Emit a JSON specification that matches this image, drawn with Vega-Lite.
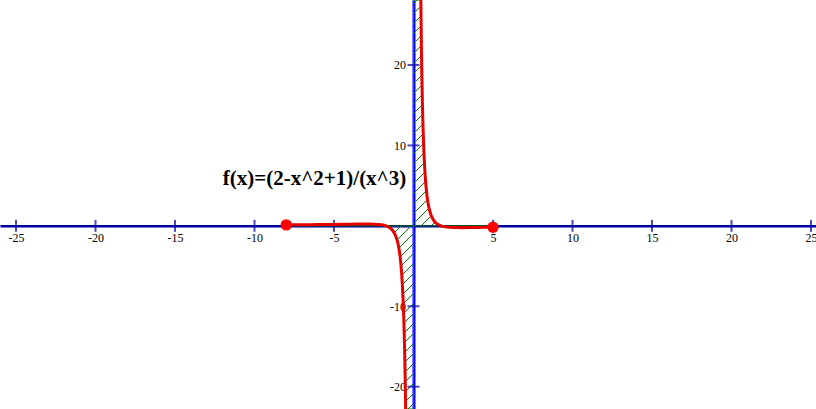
{
  "$schema": "https://vega.github.io/schema/vega-lite/v6.json",
  "width": 816,
  "height": 409,
  "padding": 0,
  "autosize": {"type": "none"},
  "background": "white",
  "config": {"view": {"stroke": null}},
  "datasets": {
    "curve": [
      {"x": -8, "y": 0.11914, "seg": "L"},
      {"x": -7.5, "y": 0.12622, "seg": "L"},
      {"x": -7, "y": 0.13411, "seg": "L"},
      {"x": -6.5, "y": 0.14292, "seg": "L"},
      {"x": -6, "y": 0.15278, "seg": "L"},
      {"x": -5.5, "y": 0.16379, "seg": "L"},
      {"x": -5, "y": 0.176, "seg": "L"},
      {"x": -4.5, "y": 0.1893, "seg": "L"},
      {"x": -4, "y": 0.20313, "seg": "L"},
      {"x": -3.5, "y": 0.21574, "seg": "L"},
      {"x": -3, "y": 0.22222, "seg": "L"},
      {"x": -2.75, "y": 0.21938, "seg": "L"},
      {"x": -2.5, "y": 0.208, "seg": "L"},
      {"x": -2.25, "y": 0.18107, "seg": "L"},
      {"x": -2, "y": 0.125, "seg": "L"},
      {"x": -1.85, "y": 0.06673, "seg": "L"},
      {"x": -1.732, "y": 0, "seg": "L"},
      {"x": -1.6, "y": -0.10742, "seg": "L"},
      {"x": -1.5, "y": -0.22222, "seg": "L"},
      {"x": -1.4, "y": -0.37901, "seg": "L"},
      {"x": -1.3, "y": -0.59627, "seg": "L"},
      {"x": -1.2, "y": -0.90278, "seg": "L"},
      {"x": -1.1, "y": -1.34485, "seg": "L"},
      {"x": -1.0, "y": -2.0, "seg": "L"},
      {"x": -0.95, "y": -2.44642, "seg": "L"},
      {"x": -0.9, "y": -3.00412, "seg": "L"},
      {"x": -0.85, "y": -3.70853, "seg": "L"},
      {"x": -0.8, "y": -4.60938, "seg": "L"},
      {"x": -0.75, "y": -5.77778, "seg": "L"},
      {"x": -0.7, "y": -7.31778, "seg": "L"},
      {"x": -0.65, "y": -9.38552, "seg": "L"},
      {"x": -0.6, "y": -12.2222, "seg": "L"},
      {"x": -0.575, "y": -14.0413, "seg": "L"},
      {"x": -0.55, "y": -16.2134, "seg": "L"},
      {"x": -0.525, "y": -18.8273, "seg": "L"},
      {"x": -0.5, "y": -22.0, "seg": "L"},
      {"x": -0.4946, "y": -22.773, "seg": "L"},
      {"x": -0.0001, "y": -22.773, "seg": "L", "edge": true},
      {"x": 0.0001, "y": 28.082, "seg": "R", "edge": true},
      {"x": 0.4629, "y": 28.082, "seg": "R"},
      {"x": 0.475, "y": 25.887, "seg": "R"},
      {"x": 0.5, "y": 22.0, "seg": "R"},
      {"x": 0.525, "y": 18.8273, "seg": "R"},
      {"x": 0.55, "y": 16.2134, "seg": "R"},
      {"x": 0.575, "y": 14.0413, "seg": "R"},
      {"x": 0.6, "y": 12.2222, "seg": "R"},
      {"x": 0.65, "y": 9.38552, "seg": "R"},
      {"x": 0.7, "y": 7.31778, "seg": "R"},
      {"x": 0.75, "y": 5.77778, "seg": "R"},
      {"x": 0.8, "y": 4.60938, "seg": "R"},
      {"x": 0.85, "y": 3.70853, "seg": "R"},
      {"x": 0.9, "y": 3.00412, "seg": "R"},
      {"x": 0.95, "y": 2.44642, "seg": "R"},
      {"x": 1.0, "y": 2.0, "seg": "R"},
      {"x": 1.1, "y": 1.34485, "seg": "R"},
      {"x": 1.2, "y": 0.90278, "seg": "R"},
      {"x": 1.3, "y": 0.59627, "seg": "R"},
      {"x": 1.4, "y": 0.37901, "seg": "R"},
      {"x": 1.5, "y": 0.22222, "seg": "R"},
      {"x": 1.6, "y": 0.10742, "seg": "R"},
      {"x": 1.732, "y": 0, "seg": "R"},
      {"x": 1.85, "y": -0.06673, "seg": "R"},
      {"x": 2, "y": -0.125, "seg": "R"},
      {"x": 2.25, "y": -0.18107, "seg": "R"},
      {"x": 2.5, "y": -0.208, "seg": "R"},
      {"x": 2.75, "y": -0.21938, "seg": "R"},
      {"x": 3, "y": -0.22222, "seg": "R"},
      {"x": 3.5, "y": -0.21574, "seg": "R"},
      {"x": 4, "y": -0.20313, "seg": "R"},
      {"x": 4.5, "y": -0.1893, "seg": "R"},
      {"x": 5, "y": -0.176, "seg": "R"}
    ],
    "xticks": [{"v": -25}, {"v": -20}, {"v": -15}, {"v": -10}, {"v": -5}, {"v": 5}, {"v": 10}, {"v": 15}, {"v": 20}, {"v": 25}],
    "yticks": [{"v": -20}, {"v": -10}, {"v": 10}, {"v": 20}],
    "points": [{"x": -8, "y": 0.11914}, {"x": 5, "y": -0.176}],
    "label": [{"x": -12.0, "y": 5.08, "text": "f(x)=(2-x^2+1)/(x^3)"}]
  },
  "encoding": {
    "x": {
      "type": "quantitative",
      "scale": {"domain": [-26.006, 25.314], "nice": false, "zero": false},
      "axis": {
        "title": null, "orient": "bottom", "offset": -183.15,
        "values": [-25, -20, -15, -10, -5, 5, 10, 15, 20, 25],
        "labelExpr": "datum.value < 0 ? '-' + abs(datum.value) : '' + datum.value",
        "domainColor": "#0000a0", "domainWidth": 2.5,
        "ticks": false, "tickSize": 0, "grid": false,
        "labelFont": "Liberation Serif", "labelFontSize": 12, "labelColor": "#000000",
        "labelPadding": 7, "labelFlush": false, "labelOverlap": false
      }
    },
    "y": {
      "type": "quantitative",
      "scale": {"domain": [-22.773, 28.082], "nice": false, "zero": false},
      "axis": {
        "title": null, "orient": "left", "offset": -413.5,
        "values": [-20, -10, 10, 20],
        "labelExpr": "datum.value < 0 ? '-' + abs(datum.value) : '' + datum.value",
        "domainColor": "#0000ff", "domainWidth": 3,
        "ticks": false, "tickSize": 0, "grid": false,
        "labelFont": "Liberation Serif", "labelFontSize": 12, "labelColor": "#000000",
        "labelPadding": 8, "labelFlush": false, "labelOverlap": false
      }
    }
  },
  "layer": [
    {
      "data": {"name": "curve"},
      "mark": {
        "type": "area",
        "stroke": "#008000",
        "strokeWidth": 1,
        "fill": {
          "gradient": "linear", "x1": 0, "y1": 0, "x2": 0.606, "y2": 1.1991,
          "stops": [
            {"offset": 0, "color": "rgba(0,128,0,0)"}, {"offset": 0, "color": "#008000"}, {"offset": 0.0025, "color": "#008000"}, {"offset": 0.0025, "color": "rgba(0,128,0,0)"},
            {"offset": 0.01624, "color": "rgba(0,128,0,0)"}, {"offset": 0.01624, "color": "#008000"}, {"offset": 0.01874, "color": "#008000"}, {"offset": 0.01874, "color": "rgba(0,128,0,0)"},
            {"offset": 0.03248, "color": "rgba(0,128,0,0)"}, {"offset": 0.03248, "color": "#008000"}, {"offset": 0.03498, "color": "#008000"}, {"offset": 0.03498, "color": "rgba(0,128,0,0)"},
            {"offset": 0.04872, "color": "rgba(0,128,0,0)"}, {"offset": 0.04872, "color": "#008000"}, {"offset": 0.05122, "color": "#008000"}, {"offset": 0.05122, "color": "rgba(0,128,0,0)"},
            {"offset": 0.06496, "color": "rgba(0,128,0,0)"}, {"offset": 0.06496, "color": "#008000"}, {"offset": 0.06746, "color": "#008000"}, {"offset": 0.06746, "color": "rgba(0,128,0,0)"},
            {"offset": 0.0812, "color": "rgba(0,128,0,0)"}, {"offset": 0.0812, "color": "#008000"}, {"offset": 0.0837, "color": "#008000"}, {"offset": 0.0837, "color": "rgba(0,128,0,0)"},
            {"offset": 0.09744, "color": "rgba(0,128,0,0)"}, {"offset": 0.09744, "color": "#008000"}, {"offset": 0.09994, "color": "#008000"}, {"offset": 0.09994, "color": "rgba(0,128,0,0)"},
            {"offset": 0.11368, "color": "rgba(0,128,0,0)"}, {"offset": 0.11368, "color": "#008000"}, {"offset": 0.11618, "color": "#008000"}, {"offset": 0.11618, "color": "rgba(0,128,0,0)"},
            {"offset": 0.12992, "color": "rgba(0,128,0,0)"}, {"offset": 0.12992, "color": "#008000"}, {"offset": 0.13242, "color": "#008000"}, {"offset": 0.13242, "color": "rgba(0,128,0,0)"},
            {"offset": 0.14616, "color": "rgba(0,128,0,0)"}, {"offset": 0.14616, "color": "#008000"}, {"offset": 0.14866, "color": "#008000"}, {"offset": 0.14866, "color": "rgba(0,128,0,0)"},
            {"offset": 0.1624, "color": "rgba(0,128,0,0)"}, {"offset": 0.1624, "color": "#008000"}, {"offset": 0.1649, "color": "#008000"}, {"offset": 0.1649, "color": "rgba(0,128,0,0)"},
            {"offset": 0.17864, "color": "rgba(0,128,0,0)"}, {"offset": 0.17864, "color": "#008000"}, {"offset": 0.18114, "color": "#008000"}, {"offset": 0.18114, "color": "rgba(0,128,0,0)"},
            {"offset": 0.19488, "color": "rgba(0,128,0,0)"}, {"offset": 0.19488, "color": "#008000"}, {"offset": 0.19738, "color": "#008000"}, {"offset": 0.19738, "color": "rgba(0,128,0,0)"},
            {"offset": 0.21112, "color": "rgba(0,128,0,0)"}, {"offset": 0.21112, "color": "#008000"}, {"offset": 0.21362, "color": "#008000"}, {"offset": 0.21362, "color": "rgba(0,128,0,0)"},
            {"offset": 0.22736, "color": "rgba(0,128,0,0)"}, {"offset": 0.22736, "color": "#008000"}, {"offset": 0.22986, "color": "#008000"}, {"offset": 0.22986, "color": "rgba(0,128,0,0)"},
            {"offset": 0.2436, "color": "rgba(0,128,0,0)"}, {"offset": 0.2436, "color": "#008000"}, {"offset": 0.2461, "color": "#008000"}, {"offset": 0.2461, "color": "rgba(0,128,0,0)"},
            {"offset": 0.25984, "color": "rgba(0,128,0,0)"}, {"offset": 0.25984, "color": "#008000"}, {"offset": 0.26234, "color": "#008000"}, {"offset": 0.26234, "color": "rgba(0,128,0,0)"},
            {"offset": 0.27608, "color": "rgba(0,128,0,0)"}, {"offset": 0.27608, "color": "#008000"}, {"offset": 0.27858, "color": "#008000"}, {"offset": 0.27858, "color": "rgba(0,128,0,0)"},
            {"offset": 0.29232, "color": "rgba(0,128,0,0)"}, {"offset": 0.29232, "color": "#008000"}, {"offset": 0.29482, "color": "#008000"}, {"offset": 0.29482, "color": "rgba(0,128,0,0)"},
            {"offset": 0.30856, "color": "rgba(0,128,0,0)"}, {"offset": 0.30856, "color": "#008000"}, {"offset": 0.31106, "color": "#008000"}, {"offset": 0.31106, "color": "rgba(0,128,0,0)"},
            {"offset": 0.3248, "color": "rgba(0,128,0,0)"}, {"offset": 0.3248, "color": "#008000"}, {"offset": 0.3273, "color": "#008000"}, {"offset": 0.3273, "color": "rgba(0,128,0,0)"},
            {"offset": 0.34104, "color": "rgba(0,128,0,0)"}, {"offset": 0.34104, "color": "#008000"}, {"offset": 0.34354, "color": "#008000"}, {"offset": 0.34354, "color": "rgba(0,128,0,0)"},
            {"offset": 0.35728, "color": "rgba(0,128,0,0)"}, {"offset": 0.35728, "color": "#008000"}, {"offset": 0.35978, "color": "#008000"}, {"offset": 0.35978, "color": "rgba(0,128,0,0)"},
            {"offset": 0.37352, "color": "rgba(0,128,0,0)"}, {"offset": 0.37352, "color": "#008000"}, {"offset": 0.37602, "color": "#008000"}, {"offset": 0.37602, "color": "rgba(0,128,0,0)"},
            {"offset": 0.38976, "color": "rgba(0,128,0,0)"}, {"offset": 0.38976, "color": "#008000"}, {"offset": 0.39226, "color": "#008000"}, {"offset": 0.39226, "color": "rgba(0,128,0,0)"},
            {"offset": 0.406, "color": "rgba(0,128,0,0)"}, {"offset": 0.406, "color": "#008000"}, {"offset": 0.4085, "color": "#008000"}, {"offset": 0.4085, "color": "rgba(0,128,0,0)"},
            {"offset": 0.42224, "color": "rgba(0,128,0,0)"}, {"offset": 0.42224, "color": "#008000"}, {"offset": 0.42474, "color": "#008000"}, {"offset": 0.42474, "color": "rgba(0,128,0,0)"},
            {"offset": 0.43848, "color": "rgba(0,128,0,0)"}, {"offset": 0.43848, "color": "#008000"}, {"offset": 0.44098, "color": "#008000"}, {"offset": 0.44098, "color": "rgba(0,128,0,0)"},
            {"offset": 0.45472, "color": "rgba(0,128,0,0)"}, {"offset": 0.45472, "color": "#008000"}, {"offset": 0.45722, "color": "#008000"}, {"offset": 0.45722, "color": "rgba(0,128,0,0)"},
            {"offset": 0.47096, "color": "rgba(0,128,0,0)"}, {"offset": 0.47096, "color": "#008000"}, {"offset": 0.47346, "color": "#008000"}, {"offset": 0.47346, "color": "rgba(0,128,0,0)"},
            {"offset": 0.4872, "color": "rgba(0,128,0,0)"}, {"offset": 0.4872, "color": "#008000"}, {"offset": 0.4897, "color": "#008000"}, {"offset": 0.4897, "color": "rgba(0,128,0,0)"},
            {"offset": 0.50344, "color": "rgba(0,128,0,0)"}, {"offset": 0.50344, "color": "#008000"}, {"offset": 0.50594, "color": "#008000"}, {"offset": 0.50594, "color": "rgba(0,128,0,0)"},
            {"offset": 0.51968, "color": "rgba(0,128,0,0)"}, {"offset": 0.51968, "color": "#008000"}, {"offset": 0.52218, "color": "#008000"}, {"offset": 0.52218, "color": "rgba(0,128,0,0)"},
            {"offset": 0.53592, "color": "rgba(0,128,0,0)"}, {"offset": 0.53592, "color": "#008000"}, {"offset": 0.53842, "color": "#008000"}, {"offset": 0.53842, "color": "rgba(0,128,0,0)"},
            {"offset": 0.55216, "color": "rgba(0,128,0,0)"}, {"offset": 0.55216, "color": "#008000"}, {"offset": 0.55466, "color": "#008000"}, {"offset": 0.55466, "color": "rgba(0,128,0,0)"},
            {"offset": 0.5684, "color": "rgba(0,128,0,0)"}, {"offset": 0.5684, "color": "#008000"}, {"offset": 0.5709, "color": "#008000"}, {"offset": 0.5709, "color": "rgba(0,128,0,0)"},
            {"offset": 0.58464, "color": "rgba(0,128,0,0)"}, {"offset": 0.58464, "color": "#008000"}, {"offset": 0.58714, "color": "#008000"}, {"offset": 0.58714, "color": "rgba(0,128,0,0)"},
            {"offset": 0.60088, "color": "rgba(0,128,0,0)"}, {"offset": 0.60088, "color": "#008000"}, {"offset": 0.60338, "color": "#008000"}, {"offset": 0.60338, "color": "rgba(0,128,0,0)"},
            {"offset": 0.61712, "color": "rgba(0,128,0,0)"}, {"offset": 0.61712, "color": "#008000"}, {"offset": 0.61962, "color": "#008000"}, {"offset": 0.61962, "color": "rgba(0,128,0,0)"},
            {"offset": 0.63336, "color": "rgba(0,128,0,0)"}, {"offset": 0.63336, "color": "#008000"}, {"offset": 0.63586, "color": "#008000"}, {"offset": 0.63586, "color": "rgba(0,128,0,0)"},
            {"offset": 0.6496, "color": "rgba(0,128,0,0)"}, {"offset": 0.6496, "color": "#008000"}, {"offset": 0.6521, "color": "#008000"}, {"offset": 0.6521, "color": "rgba(0,128,0,0)"},
            {"offset": 0.66584, "color": "rgba(0,128,0,0)"}, {"offset": 0.66584, "color": "#008000"}, {"offset": 0.66834, "color": "#008000"}, {"offset": 0.66834, "color": "rgba(0,128,0,0)"},
            {"offset": 0.68208, "color": "rgba(0,128,0,0)"}, {"offset": 0.68208, "color": "#008000"}, {"offset": 0.68458, "color": "#008000"}, {"offset": 0.68458, "color": "rgba(0,128,0,0)"},
            {"offset": 0.69832, "color": "rgba(0,128,0,0)"}, {"offset": 0.69832, "color": "#008000"}, {"offset": 0.70082, "color": "#008000"}, {"offset": 0.70082, "color": "rgba(0,128,0,0)"},
            {"offset": 0.71456, "color": "rgba(0,128,0,0)"}, {"offset": 0.71456, "color": "#008000"}, {"offset": 0.71706, "color": "#008000"}, {"offset": 0.71706, "color": "rgba(0,128,0,0)"},
            {"offset": 0.7308, "color": "rgba(0,128,0,0)"}, {"offset": 0.7308, "color": "#008000"}, {"offset": 0.7333, "color": "#008000"}, {"offset": 0.7333, "color": "rgba(0,128,0,0)"},
            {"offset": 0.74704, "color": "rgba(0,128,0,0)"}, {"offset": 0.74704, "color": "#008000"}, {"offset": 0.74954, "color": "#008000"}, {"offset": 0.74954, "color": "rgba(0,128,0,0)"},
            {"offset": 0.76328, "color": "rgba(0,128,0,0)"}, {"offset": 0.76328, "color": "#008000"}, {"offset": 0.76578, "color": "#008000"}, {"offset": 0.76578, "color": "rgba(0,128,0,0)"},
            {"offset": 0.77952, "color": "rgba(0,128,0,0)"}, {"offset": 0.77952, "color": "#008000"}, {"offset": 0.78202, "color": "#008000"}, {"offset": 0.78202, "color": "rgba(0,128,0,0)"},
            {"offset": 0.79576, "color": "rgba(0,128,0,0)"}, {"offset": 0.79576, "color": "#008000"}, {"offset": 0.79826, "color": "#008000"}, {"offset": 0.79826, "color": "rgba(0,128,0,0)"},
            {"offset": 0.812, "color": "rgba(0,128,0,0)"}, {"offset": 0.812, "color": "#008000"}, {"offset": 0.8145, "color": "#008000"}, {"offset": 0.8145, "color": "rgba(0,128,0,0)"},
            {"offset": 0.82824, "color": "rgba(0,128,0,0)"}, {"offset": 0.82824, "color": "#008000"}, {"offset": 0.83074, "color": "#008000"}, {"offset": 0.83074, "color": "rgba(0,128,0,0)"},
            {"offset": 0.84448, "color": "rgba(0,128,0,0)"}, {"offset": 0.84448, "color": "#008000"}, {"offset": 0.84698, "color": "#008000"}, {"offset": 0.84698, "color": "rgba(0,128,0,0)"},
            {"offset": 0.86072, "color": "rgba(0,128,0,0)"}, {"offset": 0.86072, "color": "#008000"}, {"offset": 0.86322, "color": "#008000"}, {"offset": 0.86322, "color": "rgba(0,128,0,0)"},
            {"offset": 0.87696, "color": "rgba(0,128,0,0)"}, {"offset": 0.87696, "color": "#008000"}, {"offset": 0.87946, "color": "#008000"}, {"offset": 0.87946, "color": "rgba(0,128,0,0)"},
            {"offset": 0.8932, "color": "rgba(0,128,0,0)"}, {"offset": 0.8932, "color": "#008000"}, {"offset": 0.8957, "color": "#008000"}, {"offset": 0.8957, "color": "rgba(0,128,0,0)"},
            {"offset": 0.90944, "color": "rgba(0,128,0,0)"}, {"offset": 0.90944, "color": "#008000"}, {"offset": 0.91194, "color": "#008000"}, {"offset": 0.91194, "color": "rgba(0,128,0,0)"},
            {"offset": 0.92568, "color": "rgba(0,128,0,0)"}, {"offset": 0.92568, "color": "#008000"}, {"offset": 0.92818, "color": "#008000"}, {"offset": 0.92818, "color": "rgba(0,128,0,0)"},
            {"offset": 0.94192, "color": "rgba(0,128,0,0)"}, {"offset": 0.94192, "color": "#008000"}, {"offset": 0.94442, "color": "#008000"}, {"offset": 0.94442, "color": "rgba(0,128,0,0)"},
            {"offset": 0.95816, "color": "rgba(0,128,0,0)"}, {"offset": 0.95816, "color": "#008000"}, {"offset": 0.96066, "color": "#008000"}, {"offset": 0.96066, "color": "rgba(0,128,0,0)"},
            {"offset": 0.9744, "color": "rgba(0,128,0,0)"}, {"offset": 0.9744, "color": "#008000"}, {"offset": 0.9769, "color": "#008000"}, {"offset": 0.9769, "color": "rgba(0,128,0,0)"},
            {"offset": 0.99064, "color": "rgba(0,128,0,0)"}, {"offset": 0.99064, "color": "#008000"}, {"offset": 0.99314, "color": "#008000"}, {"offset": 0.99314, "color": "rgba(0,128,0,0)"},
            {"offset": 1, "color": "rgba(0,128,0,0)"}
          ]
        }
      },
      "encoding": {
        "x": {"field": "x"},
        "y": {"field": "y"},
        "y2": {"datum": 0}
      }
    },
    {
      "data": {"name": "xticks"},
      "mark": {"type": "tick", "orient": "vertical", "size": 12, "thickness": 2, "color": "#0000a0"},
      "encoding": {
        "x": {"field": "v"},
        "y": {"datum": 0}
      }
    },
    {
      "data": {"name": "yticks"},
      "mark": {"type": "tick", "orient": "horizontal", "size": 12, "thickness": 2, "color": "#0000a0"},
      "encoding": {
        "x": {"datum": 0},
        "y": {"field": "v"}
      }
    },
    {
      "data": {"name": "curve"},
      "transform": [{"filter": "!datum.edge"}],
      "mark": {"type": "line", "color": "#e60000", "strokeWidth": 3},
      "encoding": {
        "x": {"field": "x"},
        "y": {"field": "y"},
        "detail": {"field": "seg"}
      }
    },
    {
      "data": {"name": "points"},
      "mark": {"type": "point", "filled": true, "size": 130, "color": "#ff0000", "opacity": 1},
      "encoding": {
        "x": {"field": "x"},
        "y": {"field": "y"}
      }
    },
    {
      "data": {"name": "label"},
      "mark": {"type": "text", "align": "left", "baseline": "alphabetic", "font": "Liberation Serif", "fontSize": 21, "fontWeight": "bold", "color": "#000000"},
      "encoding": {
        "x": {"field": "x"},
        "y": {"field": "y"},
        "text": {"field": "text"}
      }
    }
  ]
}
